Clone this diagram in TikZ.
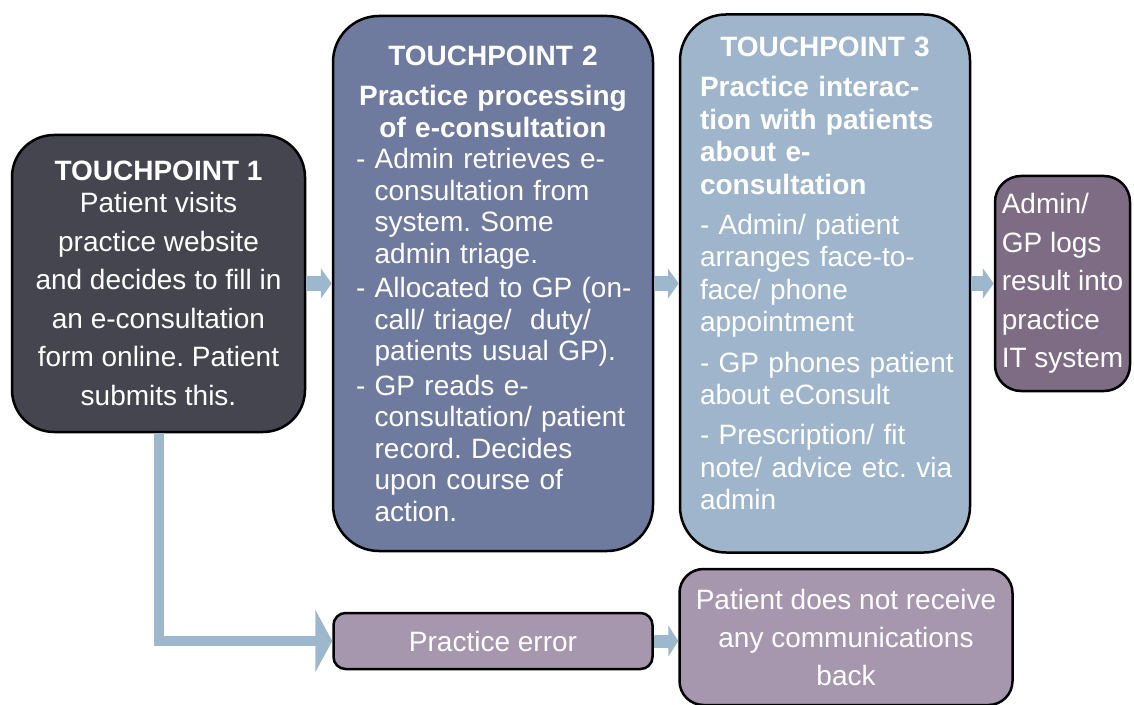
\documentclass[tikz,border=0pt]{standalone}
\usepackage{fontspec}
\setmainfont{Liberation Sans}
\usepackage{tikz}
\usetikzlibrary{%
  arrows.meta,%
  positioning%
}
\definecolor{tpone}{HTML}{45454F}
\definecolor{tptwo}{HTML}{6F7A9F}
\definecolor{tpthree}{HTML}{9FB5CC}
\definecolor{logcol}{HTML}{7E6C84}
\definecolor{failcol}{HTML}{A696AE}
\definecolor{flowcol}{HTML}{9DB7CD}
\frenchspacing

\begin{document}
\begin{tikzpicture}[
    box/.style={draw=black, line width=1.25pt, text=white, inner sep=0pt},
    flow/.style={draw=flowcol, line width=7.5pt, -{Triangle[length=5.5pt,width=15pt]}}
]
    \useasboundingbox (0,0) rectangle (567pt,-352.5pt);
    \node[box, fill=tpone, rounded corners=21pt, minimum width=146.5pt, minimum height=148.5pt,
      align=center, font=\fontsize{14}{19.25}\selectfont] (tp1) at (79.25pt,-141.75pt)
      {{\bfseries TOUCHPOINT 1}\\[-3.25pt]Patient visits\\practice website\\and decides to fill in\\an e-consultation\\form online. Patient\\submits this.};
    \node[box, fill=tptwo, rounded corners=23pt, minimum width=160pt, minimum height=267.5pt,
      text width=150pt, align=left, font=\fontsize{14}{15.75}\selectfont,
      right=12.75pt of tp1] (tp2)
      {{\noindent\centering\bfseries TOUCHPOINT 2\\[4.5pt]Practice processing\\of e-consultation\par}
       \leftskip=6.5pt\hyphenpenalty=10000
       \noindent - Admin retrieves e-\\
       \phantom{- }consultation from\\
       \phantom{- }system. Some\\
       \phantom{- }admin triage.\\[1.5pt]
       - Allocated to GP (on-\\
       \phantom{- }call/ triage/\ \ duty/\\
       \phantom{- }patients usual GP).\\[1.5pt]
       - GP reads e-\\
       \phantom{- }consultation/ patient\\
       \phantom{- }record. Decides\\
       \phantom{- }upon course of\\
       \phantom{- }action.\par};
    \node[box, fill=tpthree, rounded corners=23pt, minimum width=145pt, minimum height=269pt,
      text width=140pt, align=left, font=\fontsize{14}{16.2}\selectfont,
      right=12.25pt of tp2] (tp3)
      {{\noindent\centering\bfseries TOUCHPOINT 3\par}\vspace{4pt}
       \leftskip=7.5pt\hyphenpenalty=10000
       \noindent{\bfseries Practice interac-\\tion with patients\\about e-\\consultation}\\[4pt]
       - Admin/ patient\\arranges face-to-\\face/ phone\\appointment\\[4pt]
       - GP phones patient\\about eConsult\\[4pt]
       - Prescription/ fit\\note/ advice etc. via\\admin\par\vspace{10pt}};
    \node[box, fill=logcol, rounded corners=13pt, minimum width=67.5pt, minimum height=107.5pt,
      align=left, font=\fontsize{14}{19.25}\selectfont,
      right=11.25pt of tp3] (log)
      {Admin/\\GP logs\\result into\\practice\\IT system};
    \node[box, fill=failcol, rounded corners=6pt, minimum width=159.5pt, minimum height=28pt,
      font=\fontsize{14}{16}\selectfont,
      below=29.75pt of tp2] (err) {Practice error};
    \node[box, fill=failcol, rounded corners=12pt, minimum width=166.5pt, minimum height=68pt,
      align=center, font=\fontsize{14}{19}\selectfont,
      right=12.25pt of err, yshift=2pt] (nocomm)
      {Patient does not receive\\any communications\\back};
    % connectors
    \path (tp1) edge[flow] (tp2);
    \path (tp2) edge[flow] (tp3);
    \path (tp3) edge[flow] (log);
    \draw[flow, line width=5pt, -{Triangle[length=8.5pt,width=31pt]}] (tp1.south) |- (err.west);
    \draw[flow, line width=6.5pt, -{Triangle[length=5pt,width=15.5pt]}] (err.east) -- (err.east -| nocomm.west);
\end{tikzpicture}
\end{document}
